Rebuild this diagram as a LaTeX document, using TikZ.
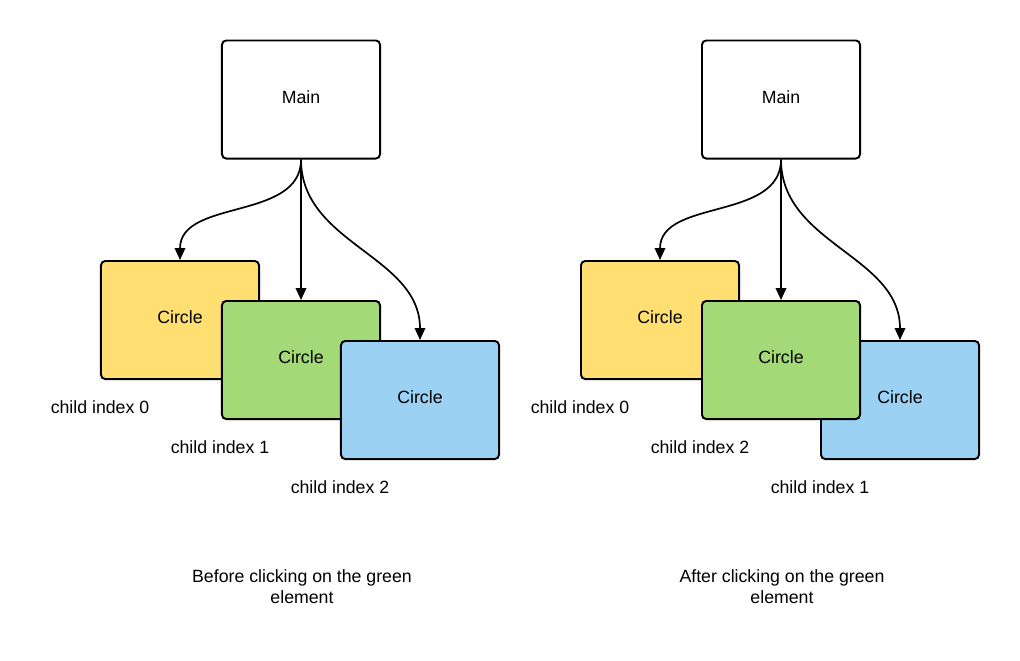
\documentclass[tikz,border=0pt]{standalone}
\usepackage{fontspec}
\setmainfont{Liberation Sans}
\usetikzlibrary{positioning}
\usetikzlibrary{arrows.meta}
\definecolor{boxyellow}{HTML}{FFDF71}
\definecolor{boxgreen}{HTML}{A3D977}
\definecolor{boxblue}{HTML}{9BD1F3}
\tikzset{
  card/.style={draw=black, line width=1.4pt, rounded corners=3pt,
    minimum width=3.95cm, minimum height=2.95cm, text depth=3.6pt,
    font=\fontsize{12.6}{15}\selectfont},
  link/.style={line width=1.2pt, -{Triangle[length=8.5pt,width=7.5pt]}},
  caption/.style={font=\fontsize{12.6}{15}\selectfont, align=center}
}

\begin{document}
\begin{tikzpicture}[x=0.025cm, y=-0.025cm]
    \useasboundingbox (0,0) rectangle (1020,660);
    % before clicking
    \node[card, fill=white] (mainL) at (301,99.5) {Main};
    \node[card, fill=boxyellow] (yellowL) at (180,320) {Circle};
    \node[card, fill=boxgreen] (greenL) at (301,360) {Circle};
    \node[card, fill=boxblue] (blueL) at (420,400) {Circle};
    \draw[link] (mainL.south) to[out=-90, in=90] (yellowL.north);
    \draw[link] (mainL.south) -- (greenL.north);
    \draw[link] (mainL.south) to[out=-90, in=90] (blueL.north);
    \node[caption] (idxL0) at (100,407) {child index 0};
    \node[caption] (idxL1) at (220,447) {child index 1};
    \node[caption] (idxL2) at (340,487) {child index 2};
    \node[caption] (capL) at (302,587) {Before clicking on the green\\element};
    % after clicking
    \node[card, fill=white] (mainR) at (781,99.5) {Main};
    \node[card, fill=boxyellow] (yellowR) at (660,320) {Circle};
    \node[card, fill=boxblue] (blueR) at (900,400) {Circle};
    \node[card, fill=boxgreen] (greenR) at (781,360) {Circle};
    \draw[link] (mainR.south) to[out=-90, in=90] (yellowR.north);
    \draw[link] (mainR.south) -- (greenR.north);
    \draw[link] (mainR.south) to[out=-90, in=90] (blueR.north);
    \node[caption] (idxR0) at (580,407) {child index 0};
    \node[caption] (idxR2) at (700,447) {child index 2};
    \node[caption] (idxR1) at (820,487) {child index 1};
    \node[caption] (capR) at (782,587) {After clicking on the green\\element};
\end{tikzpicture}
\end{document}
